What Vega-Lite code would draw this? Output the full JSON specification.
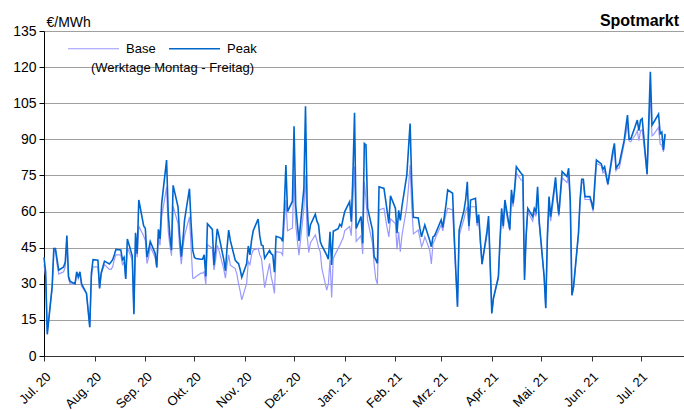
{
"$schema": "https://vega.github.io/schema/vega-lite/v6.json",
"width": 640, "height": 325,
"autosize": "none",
"padding": {"left": 44, "top": 31, "right": 0, "bottom": 54},
"background": "white",
"config": {"view": {"stroke": null}, "font": "Liberation Sans"},
"title": {"text": "Spotmarkt", "anchor": "end", "frame": "group", "fontSize": 16, "fontWeight": "bold", "font": "Liberation Sans", "color": "black", "offset": -14, "dx": -5},
"datasets": {"spot": [
{"d":"2020-07-01","Peak":41,"Base":38},{"d":"2020-07-02","Peak":35,"Base":33},{"d":"2020-07-03","Peak":9,"Base":10},
{"d":"2020-07-06","Peak":29,"Base":28},{"d":"2020-07-07","Peak":44.6,"Base":43},{"d":"2020-07-08","Peak":44.6,"Base":44},{"d":"2020-07-09","Peak":40,"Base":38},{"d":"2020-07-10","Peak":35.7,"Base":34},
{"d":"2020-07-13","Peak":37,"Base":35},{"d":"2020-07-14","Peak":39,"Base":37},{"d":"2020-07-15","Peak":50,"Base":47},{"d":"2020-07-16","Peak":33,"Base":32},{"d":"2020-07-17","Peak":31,"Base":30},
{"d":"2020-07-20","Peak":30,"Base":30},{"d":"2020-07-21","Peak":35,"Base":34},{"d":"2020-07-22","Peak":33,"Base":32},{"d":"2020-07-23","Peak":35,"Base":34},{"d":"2020-07-24","Peak":30,"Base":29},
{"d":"2020-07-27","Peak":26,"Base":26},{"d":"2020-07-28","Peak":19,"Base":19},{"d":"2020-07-29","Peak":12,"Base":12},{"d":"2020-07-30","Peak":34.5,"Base":33},{"d":"2020-07-31","Peak":40,"Base":37},
{"d":"2020-08-03","Peak":39.8,"Base":37},{"d":"2020-08-04","Peak":28.2,"Base":28},{"d":"2020-08-05","Peak":34.5,"Base":34},{"d":"2020-08-06","Peak":37,"Base":36},{"d":"2020-08-07","Peak":39.4,"Base":38},
{"d":"2020-08-10","Peak":38.2,"Base":36},{"d":"2020-08-11","Peak":39,"Base":36},{"d":"2020-08-12","Peak":40,"Base":37},{"d":"2020-08-13","Peak":42,"Base":40},{"d":"2020-08-14","Peak":44.3,"Base":42},
{"d":"2020-08-17","Peak":44,"Base":42},{"d":"2020-08-18","Peak":40,"Base":38},{"d":"2020-08-19","Peak":41,"Base":39},{"d":"2020-08-20","Peak":32,"Base":32},{"d":"2020-08-21","Peak":48.6,"Base":45},
{"d":"2020-08-24","Peak":41.6,"Base":40},{"d":"2020-08-25","Peak":17.4,"Base":18},{"d":"2020-08-26","Peak":51.2,"Base":48},{"d":"2020-08-27","Peak":42.5,"Base":41},{"d":"2020-08-28","Peak":64.8,"Base":54},
{"d":"2020-08-31","Peak":54,"Base":49.8},{"d":"2020-09-01","Peak":53,"Base":48},{"d":"2020-09-02","Peak":41,"Base":38.4},{"d":"2020-09-03","Peak":44,"Base":41},{"d":"2020-09-04","Peak":47.6,"Base":45.5},
{"d":"2020-09-07","Peak":42.7,"Base":41},{"d":"2020-09-08","Peak":36.8,"Base":36.8},{"d":"2020-09-09","Peak":52.6,"Base":49.2},{"d":"2020-09-10","Peak":48.6,"Base":46},{"d":"2020-09-11","Peak":63.4,"Base":57.8},
{"d":"2020-09-14","Peak":81.4,"Base":70.2},{"d":"2020-09-15","Peak":59.4,"Base":52},{"d":"2020-09-16","Peak":50,"Base":46},{"d":"2020-09-17","Peak":44,"Base":41.7},{"d":"2020-09-18","Peak":70.9,"Base":62.2},
{"d":"2020-09-21","Peak":62,"Base":55},{"d":"2020-09-22","Peak":50,"Base":45},{"d":"2020-09-23","Peak":41.3,"Base":38.1},{"d":"2020-09-24","Peak":48,"Base":45},{"d":"2020-09-25","Peak":56.5,"Base":50},
{"d":"2020-09-28","Peak":69.5,"Base":57.8},{"d":"2020-09-29","Peak":55,"Base":45},{"d":"2020-09-30","Peak":44,"Base":32.3},{"d":"2020-10-01","Peak":41,"Base":32.3},{"d":"2020-10-02","Peak":40.5,"Base":33},
{"d":"2020-10-05","Peak":40.2,"Base":34.4},{"d":"2020-10-06","Peak":40.2,"Base":34.4},{"d":"2020-10-07","Peak":42,"Base":35},{"d":"2020-10-08","Peak":33,"Base":29.7},{"d":"2020-10-09","Peak":54.9,"Base":46.2},
{"d":"2020-10-12","Peak":52.6,"Base":44.8},{"d":"2020-10-13","Peak":37.7,"Base":35.7},{"d":"2020-10-14","Peak":45,"Base":40},{"d":"2020-10-15","Peak":52.8,"Base":46},{"d":"2020-10-16","Peak":50,"Base":44},
{"d":"2020-10-19","Peak":40,"Base":36},{"d":"2020-10-20","Peak":35.4,"Base":32.3},{"d":"2020-10-21","Peak":45,"Base":38},{"d":"2020-10-22","Peak":52.3,"Base":42},{"d":"2020-10-23","Peak":48,"Base":37.7},
{"d":"2020-10-26","Peak":39.8,"Base":36.3},{"d":"2020-10-27","Peak":39,"Base":34},{"d":"2020-10-28","Peak":38.4,"Base":30.2},{"d":"2020-10-29","Peak":36,"Base":27},{"d":"2020-10-30","Peak":32.7,"Base":23.3},
{"d":"2020-11-02","Peak":38.4,"Base":30.2},{"d":"2020-11-03","Peak":45.7,"Base":39.2},{"d":"2020-11-04","Peak":42,"Base":38},{"d":"2020-11-05","Peak":48,"Base":42},{"d":"2020-11-06","Peak":52,"Base":44},
{"d":"2020-11-09","Peak":56.9,"Base":44.7},{"d":"2020-11-10","Peak":50,"Base":42},{"d":"2020-11-11","Peak":46.1,"Base":40.6},{"d":"2020-11-12","Peak":45.8,"Base":35},{"d":"2020-11-13","Peak":40.6,"Base":28.4},
{"d":"2020-11-16","Peak":43.9,"Base":38.5},{"d":"2020-11-17","Peak":42.5,"Base":33},{"d":"2020-11-18","Peak":41.9,"Base":30},{"d":"2020-11-19","Peak":34.8,"Base":26},{"d":"2020-11-20","Peak":49.7,"Base":43.3},
{"d":"2020-11-23","Peak":49,"Base":43},{"d":"2020-11-24","Peak":47.6,"Base":41.9},{"d":"2020-11-25","Peak":61.4,"Base":55},{"d":"2020-11-26","Peak":79.3,"Base":64.8},{"d":"2020-11-27","Peak":60,"Base":52},
{"d":"2020-11-30","Peak":64.3,"Base":53.2},{"d":"2020-12-01","Peak":95.4,"Base":75.2},{"d":"2020-12-02","Peak":62.7,"Base":55},{"d":"2020-12-03","Peak":55,"Base":48},{"d":"2020-12-04","Peak":47.8,"Base":41.9},
{"d":"2020-12-07","Peak":69.6,"Base":61.4},{"d":"2020-12-08","Peak":103.7,"Base":75.2},{"d":"2020-12-09","Peak":62.7,"Base":50},{"d":"2020-12-10","Peak":49.7,"Base":43},{"d":"2020-12-11","Peak":54.4,"Base":47},
{"d":"2020-12-14","Peak":58.9,"Base":50.3},{"d":"2020-12-15","Peak":56,"Base":48},{"d":"2020-12-16","Peak":54.4,"Base":45},{"d":"2020-12-17","Peak":47.6,"Base":43.3},{"d":"2020-12-18","Peak":45.8,"Base":36.4},
{"d":"2020-12-21","Peak":41.9,"Base":27.4},{"d":"2020-12-22","Peak":40.2,"Base":30},{"d":"2020-12-23","Peak":51.6,"Base":40},{"d":"2020-12-24","Peak":37.8,"Base":24.3},{"d":"2020-12-25","Peak":51.8,"Base":40.6},
{"d":"2020-12-28","Peak":52.9,"Base":44.7},{"d":"2020-12-29","Peak":54.7,"Base":46},{"d":"2020-12-30","Peak":53.8,"Base":47.6},{"d":"2020-12-31","Peak":57,"Base":49},{"d":"2021-01-01","Peak":60,"Base":52},
{"d":"2021-01-04","Peak":64.1,"Base":53.8},{"d":"2021-01-05","Peak":55.8,"Base":50},{"d":"2021-01-06","Peak":75,"Base":65},{"d":"2021-01-07","Peak":101,"Base":78.6},{"d":"2021-01-08","Peak":53,"Base":47.6},
{"d":"2021-01-11","Peak":57.9,"Base":50},{"d":"2021-01-12","Peak":46.8,"Base":42.4},{"d":"2021-01-13","Peak":88.3,"Base":72.4},{"d":"2021-01-14","Peak":87.7,"Base":65},{"d":"2021-01-15","Peak":61.4,"Base":56.4},
{"d":"2021-01-18","Peak":52.3,"Base":46.8},{"d":"2021-01-19","Peak":41.3,"Base":38},{"d":"2021-01-20","Peak":40,"Base":32},{"d":"2021-01-21","Peak":38.5,"Base":29.9},{"d":"2021-01-22","Peak":70.3,"Base":60.7},
{"d":"2021-01-25","Peak":69.6,"Base":61.4},{"d":"2021-01-26","Peak":65,"Base":57},{"d":"2021-01-27","Peak":60,"Base":53},{"d":"2021-01-28","Peak":55.1,"Base":49.5},{"d":"2021-01-29","Peak":66.5,"Base":57},
{"d":"2021-02-01","Peak":61.4,"Base":55},{"d":"2021-02-02","Peak":51,"Base":44.3},{"d":"2021-02-03","Peak":60.5,"Base":51.6},{"d":"2021-02-04","Peak":56.3,"Base":43.3},{"d":"2021-02-05","Peak":62.1,"Base":50},
{"d":"2021-02-08","Peak":75.2,"Base":62.1},{"d":"2021-02-09","Peak":86,"Base":70},{"d":"2021-02-10","Peak":96.6,"Base":79.3},{"d":"2021-02-11","Peak":72,"Base":62},{"d":"2021-02-12","Peak":57.6,"Base":50.7},
{"d":"2021-02-15","Peak":57.3,"Base":52.3},{"d":"2021-02-16","Peak":53,"Base":49},{"d":"2021-02-17","Peak":49.5,"Base":45.4},{"d":"2021-02-18","Peak":52,"Base":47},{"d":"2021-02-19","Peak":54.4,"Base":49.5},
{"d":"2021-02-22","Peak":48,"Base":44},{"d":"2021-02-23","Peak":45.4,"Base":38.2},{"d":"2021-02-24","Peak":49.5,"Base":46.8},{"d":"2021-02-25","Peak":50,"Base":48},{"d":"2021-02-26","Peak":51.6,"Base":50},
{"d":"2021-03-01","Peak":56.5,"Base":54.4},{"d":"2021-03-02","Peak":53.4,"Base":52},{"d":"2021-03-03","Peak":58.2,"Base":56},{"d":"2021-03-04","Peak":63,"Base":59},{"d":"2021-03-05","Peak":69,"Base":61.4},
{"d":"2021-03-08","Peak":67.6,"Base":60.7},{"d":"2021-03-09","Peak":50,"Base":47},{"d":"2021-03-10","Peak":35,"Base":33},{"d":"2021-03-11","Peak":20.5,"Base":20.5},{"d":"2021-03-12","Peak":52.3,"Base":50},
{"d":"2021-03-15","Peak":60.6,"Base":57},{"d":"2021-03-16","Peak":65,"Base":60},{"d":"2021-03-17","Peak":72.4,"Base":62},{"d":"2021-03-18","Peak":54,"Base":52},{"d":"2021-03-19","Peak":64.8,"Base":62},
{"d":"2021-03-22","Peak":65.5,"Base":62},{"d":"2021-03-23","Peak":55.3,"Base":54},{"d":"2021-03-24","Peak":58.8,"Base":57},{"d":"2021-03-25","Peak":48,"Base":47},{"d":"2021-03-26","Peak":38.2,"Base":38},
{"d":"2021-03-29","Peak":51.6,"Base":50},{"d":"2021-03-30","Peak":58.1,"Base":56},{"d":"2021-03-31","Peak":38,"Base":38},{"d":"2021-04-01","Peak":17.7,"Base":18},{"d":"2021-04-02","Peak":24,"Base":24},
{"d":"2021-04-05","Peak":32.9,"Base":32},{"d":"2021-04-06","Peak":48.2,"Base":47},{"d":"2021-04-07","Peak":61.3,"Base":59},{"d":"2021-04-08","Peak":54,"Base":53},{"d":"2021-04-09","Peak":64.8,"Base":62},
{"d":"2021-04-12","Peak":52.6,"Base":52},{"d":"2021-04-13","Peak":69,"Base":67},{"d":"2021-04-14","Peak":63.4,"Base":62},{"d":"2021-04-15","Peak":70,"Base":68},{"d":"2021-04-16","Peak":78.6,"Base":76},
{"d":"2021-04-19","Peak":75.8,"Base":73},{"d":"2021-04-20","Peak":75.1,"Base":73},{"d":"2021-04-21","Peak":31.6,"Base":33},{"d":"2021-04-22","Peak":50,"Base":50},{"d":"2021-04-23","Peak":61.3,"Base":60},
{"d":"2021-04-26","Peak":57.9,"Base":56},{"d":"2021-04-27","Peak":61.3,"Base":60},{"d":"2021-04-28","Peak":59.9,"Base":58},{"d":"2021-04-29","Peak":70.3,"Base":67},{"d":"2021-04-30","Peak":55.8,"Base":55},
{"d":"2021-05-03","Peak":33,"Base":33},{"d":"2021-05-04","Peak":19.8,"Base":20},{"d":"2021-05-05","Peak":50,"Base":48},{"d":"2021-05-06","Peak":66.2,"Base":62},{"d":"2021-05-07","Peak":57.9,"Base":56},
{"d":"2021-05-10","Peak":74.2,"Base":72},{"d":"2021-05-11","Peak":65,"Base":64},{"d":"2021-05-12","Peak":58.8,"Base":58},{"d":"2021-05-13","Peak":68,"Base":66},{"d":"2021-05-14","Peak":76.6,"Base":74},
{"d":"2021-05-17","Peak":74.5,"Base":72},{"d":"2021-05-18","Peak":78,"Base":75},{"d":"2021-05-19","Peak":64.8,"Base":63},{"d":"2021-05-20","Peak":25.3,"Base":25},{"d":"2021-05-21","Peak":28.8,"Base":28},
{"d":"2021-05-24","Peak":51,"Base":50},{"d":"2021-05-25","Peak":65,"Base":64},{"d":"2021-05-26","Peak":73.4,"Base":72},{"d":"2021-05-27","Peak":73.4,"Base":72},{"d":"2021-05-28","Peak":66.2,"Base":65},
{"d":"2021-05-31","Peak":66.2,"Base":65},{"d":"2021-06-01","Peak":64,"Base":63},{"d":"2021-06-02","Peak":60.9,"Base":60},{"d":"2021-06-03","Peak":72,"Base":70},{"d":"2021-06-04","Peak":81.4,"Base":80},
{"d":"2021-06-07","Peak":79.8,"Base":79},{"d":"2021-06-08","Peak":77.5,"Base":76},{"d":"2021-06-09","Peak":78.6,"Base":77},{"d":"2021-06-10","Peak":75,"Base":74},{"d":"2021-06-11","Peak":71.4,"Base":71},
{"d":"2021-06-14","Peak":85,"Base":83},{"d":"2021-06-15","Peak":88.3,"Base":86.2},{"d":"2021-06-16","Peak":78,"Base":77},{"d":"2021-06-17","Peak":79,"Base":78},{"d":"2021-06-18","Peak":80,"Base":78},
{"d":"2021-06-21","Peak":89.7,"Base":88.3},{"d":"2021-06-22","Peak":95,"Base":92},{"d":"2021-06-23","Peak":100.1,"Base":96.6},{"d":"2021-06-24","Peak":90.1,"Base":89.4},{"d":"2021-06-25","Peak":90.1,"Base":89},
{"d":"2021-06-28","Peak":96,"Base":92},{"d":"2021-06-29","Peak":98,"Base":93.6},{"d":"2021-06-30","Peak":93.6,"Base":89.4},{"d":"2021-07-01","Peak":98,"Base":93.6},{"d":"2021-07-02","Peak":98.6,"Base":94},
{"d":"2021-07-05","Peak":75.6,"Base":75.2},{"d":"2021-07-06","Peak":97,"Base":93},{"d":"2021-07-07","Peak":118.1,"Base":110.5},{"d":"2021-07-08","Peak":95.9,"Base":91.5},{"d":"2021-07-09","Peak":97,"Base":92},
{"d":"2021-07-12","Peak":100.5,"Base":95},{"d":"2021-07-13","Peak":92.3,"Base":88},{"d":"2021-07-14","Peak":93,"Base":87.6},{"d":"2021-07-15","Peak":85.6,"Base":84.8},{"d":"2021-07-16","Peak":92.3,"Base":91.5}
]},
"layer": [
{
"data": {"name": "spot"},
"transform": [{"fold": ["Base", "Peak"], "as": ["Serie", "Wert"]}],
"mark": {"type": "line", "interpolate": "linear"},
"encoding": {
"x": {"field": "d", "type": "temporal",
"scale": {"type": "utc", "domain": [{"year": 2020, "month": 7, "date": 1, "utc": true}, {"year": 2021, "month": 7, "date": 27, "hours": 14, "utc": true}]},
"axis": {"title": null, "grid": false, "tickCount": {"interval": "month", "step": 1},
"labelExpr": "['Jan.','Feb.','Mrz.','Apr.','Mai.','Jun.','Jul.','Aug.','Sep.','Okt.','Nov.','Dez.'][utcmonth(datum.value)] + ' ' + utcFormat(datum.value, '%y')",
"labelAngle": -45, "labelFontSize": 13, "labelFont": "Liberation Sans", "labelColor": "black", "labelOverlap": false, "labelFlush": false,
"domainColor": "#333333", "tickColor": "#333333", "tickSize": 5, "labelPadding": 9}},
"y": {"field": "Wert", "type": "quantitative",
"scale": {"domain": [0, 135], "nice": false},
"axis": {"values": [0, 15, 30, 45, 60, 75, 90, 105, 120, 135], "tickCount": 12, "labelOverlap": false, "grid": true, "gridColor": "#a0a0a0", "gridWidth": 1,
"domainColor": "black", "tickColor": "black", "tickSize": 5, "labelPadding": 3,
"labelFontSize": 14, "labelFont": "Liberation Sans", "labelColor": "black",
"title": "€/MWh", "titleAngle": 0, "titleAlign": "left", "titleBaseline": "alphabetic", "titleX": 2, "titleY": -5,
"titleFontWeight": "normal", "titleFontSize": 14, "titleFont": "Liberation Sans", "titleColor": "black"}},
"color": {"field": "Serie", "type": "nominal",
"scale": {"domain": ["Base", "Peak"], "range": ["#9999ff", "#0066cc"]},
"legend": {"orient": "none", "legendX": 23, "legendY": -9, "direction": "horizontal", "title": null,
"symbolType": "stroke", "symbolSize": 2601, "symbolStrokeWidth": 1.4,
"labelFontSize": 13, "labelFont": "Liberation Sans", "labelColor": "black", "columnPadding": 9, "labelOffset": 6, "padding": 0}},
"strokeWidth": {"field": "Serie", "type": "nominal", "scale": {"domain": ["Base", "Peak"], "range": [1.2, 1.6]}, "legend": null}
}
},
{
"data": {"values": [{}]},
"mark": {"type": "text", "fontSize": 13, "font": "Liberation Sans", "color": "black", "align": "center", "baseline": "middle", "dy": 1},
"encoding": {
"x": {"datum": {"year": 2020, "month": 9, "date": 17, "hours": 14, "utc": true}, "type": "temporal"},
"y": {"datum": 120, "type": "quantitative"},
"text": {"value": "(Werktage Montag - Freitag)"}
}
}
]
}
